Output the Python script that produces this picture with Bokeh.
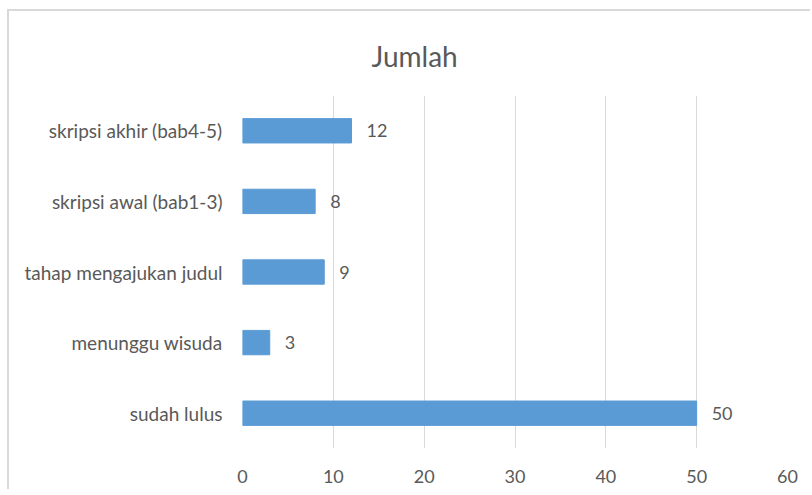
from bokeh.plotting import figure
from bokeh.models import ColumnDataSource, FactorRange, Range1d, LabelSet, SingleIntervalTicker
from bokeh.core.properties import value
from bokeh.embed import file_html
from bokeh.resources import INLINE

# Data (bottom to top)
categories = ["sudah lulus", "menunggu wisuda", "tahap mengajukan judul",
              "skripsi awal (bab1-3)", "skripsi akhir (bab4-5)"]
values = [50, 3, 9, 8, 12]
value_labels = [str(v) for v in values]
title_text = "Jumlah"

FONT = "Lato"
TEXT_COLOR = "#595959"
BAR_COLOR = "#5B9BD5"
GRID_COLOR = "#D9D9D9"

source = ColumnDataSource(data=dict(cat=categories, val=values, lab=value_labels))

p = figure(
    width=803, height=480,
    y_range=FactorRange(factors=categories, range_padding=0),
    x_range=Range1d(0, 60),
    output_backend="svg", toolbar_location=None,
    min_border_left=233, min_border_right=25,
    min_border_top=84, min_border_bottom=43,
)
p.styles = {"border-top": "2px solid #D9D9D9", "border-left": "2px solid #D9D9D9",
            "margin-left": "7px", "margin-top": "9px"}
p.outline_line_color = None
p.background_fill_color = "white"
p.border_fill_color = "white"

p.title.text = title_text
p.title.align = "left"
p.title.vertical_align = "top"
p.title.offset = 129
p.title.standoff = 41
p.title.text_font = FONT
p.title.text_font_size = "28px"
p.title.text_font_style = "normal"
p.title.text_color = TEXT_COLOR

p.hbar(y="cat", right="val", left=0, height=0.345, source=source,
       fill_color=BAR_COLOR, line_color=BAR_COLOR)

labels = LabelSet(x="val", y="cat", text="lab", source=source,
                  x_offset=15, text_align="left", text_baseline="middle",
                  text_font=value(FONT), text_font_size=value("18px"),
                  text_color=TEXT_COLOR)
p.add_layout(labels)

p.xaxis.ticker = SingleIntervalTicker(interval=10)
p.xgrid.grid_line_color = GRID_COLOR
p.xgrid.grid_line_width = 1
p.ygrid.grid_line_color = None

for ax in (p.xaxis[0], p.yaxis[0]):
    ax.axis_line_color = None
    ax.major_tick_line_color = None
    ax.minor_tick_line_color = None
    ax.major_label_text_font = FONT
    ax.major_label_text_color = TEXT_COLOR

p.xaxis.major_label_text_font_size = "18px"
p.yaxis.major_label_text_font_size = "19px"
p.xaxis.major_label_standoff = 15
p.yaxis.major_label_standoff = 14

open("out.html", "w").write(file_html(p, INLINE))
